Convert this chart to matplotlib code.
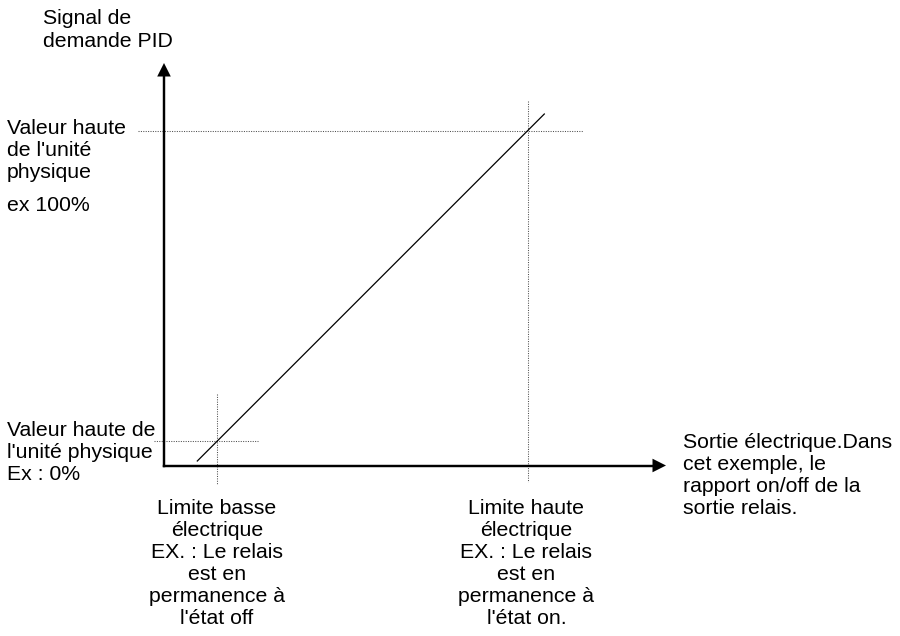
import matplotlib.pyplot as plt
from matplotlib.patches import Polygon

plt.rcParams['font.family'] = ['Liberation Sans', 'DejaVu Sans']

# diagram geometry in pixel coordinates (x right, y down)
axis_x0 = 164          # vertical axis position
axis_y0 = 465.5        # horizontal axis position
axis_x_end = 666
axis_y_end = 63
ramp_x = [197.3, 544.3]
ramp_y = [461, 114]
low_x, low_y = 216.5, 441.3
high_x, high_y = 527.8, 131
low_hline = [153.5, 258]
low_vline = [394, 483.5]
high_hline = [137.5, 583]
high_vline = [100.5, 482]

head_len = 13.5
head_half = 6.8

fs = 15.3
fig = plt.figure(figsize=(9, 6.36), dpi=100)
ax = fig.add_axes([0, 0, 1, 1])
ax.set_xlim(0, 900)
ax.set_ylim(636, 0)
ax.axis('off')

# dotted guide lines
dot = dict(color='#505050', lw=0.75, linestyle=(0, (1, 1.3)))
ax.plot(low_hline, [low_y] * 2, **dot)
ax.plot([low_x] * 2, low_vline, **dot)
ax.plot(high_hline, [high_y] * 2, **dot)
ax.plot([high_x] * 2, high_vline, **dot)

# ramp
ax.plot(ramp_x, ramp_y, color='black', lw=0.9)

# axes
ax.plot([axis_x0, axis_x_end - head_len + 1], [axis_y0, axis_y0], color='black',
        lw=1.75, solid_capstyle='projecting')
ax.plot([axis_x0, axis_x0], [axis_y0, axis_y_end + head_len - 1], color='black',
        lw=1.75, solid_capstyle='projecting')
ax.add_patch(Polygon([(axis_x_end, axis_y0),
                      (axis_x_end - head_len, axis_y0 - head_half),
                      (axis_x_end - head_len, axis_y0 + head_half)],
                     closed=True, color='black', lw=0))
ax.add_patch(Polygon([(axis_x0, axis_y_end),
                      (axis_x0 - head_half, axis_y_end + head_len),
                      (axis_x0 + head_half, axis_y_end + head_len)],
                     closed=True, color='black', lw=0))

ls = 1.2
ax.text(43, 8.5, "Signal de\ndemande PID", fontsize=fs, va='top', ha='left', linespacing=1.29)
ax.text(7, 118.5, "Valeur haute\nde l'unité\nphysique", fontsize=fs, va='top', ha='left', linespacing=ls)
ax.text(7, 196, "ex 100%", fontsize=fs, va='top', ha='left')
ax.text(7, 421, "Valeur haute de\nl'unité physique\nEx : 0%", fontsize=fs, va='top', ha='left', linespacing=ls)
ax.text(217, 499.3, "Limite basse\nélectrique\nEX. : Le relais\nest en\npermanence à\nl'état off",
        fontsize=fs, va='top', ha='center', multialignment='center', linespacing=ls)
ax.text(526.5, 499.3, "Limite haute\nélectrique\nEX. : Le relais\nest en\npermanence à\nl'état on.",
        fontsize=fs, va='top', ha='center', multialignment='center', linespacing=ls)
ax.text(683, 432.6, "Sortie électrique.Dans\ncet exemple, le\nrapport on/off de la\nsortie relais.",
        fontsize=fs, va='top', ha='left', linespacing=ls)

fig.savefig('out.png', dpi=100)
